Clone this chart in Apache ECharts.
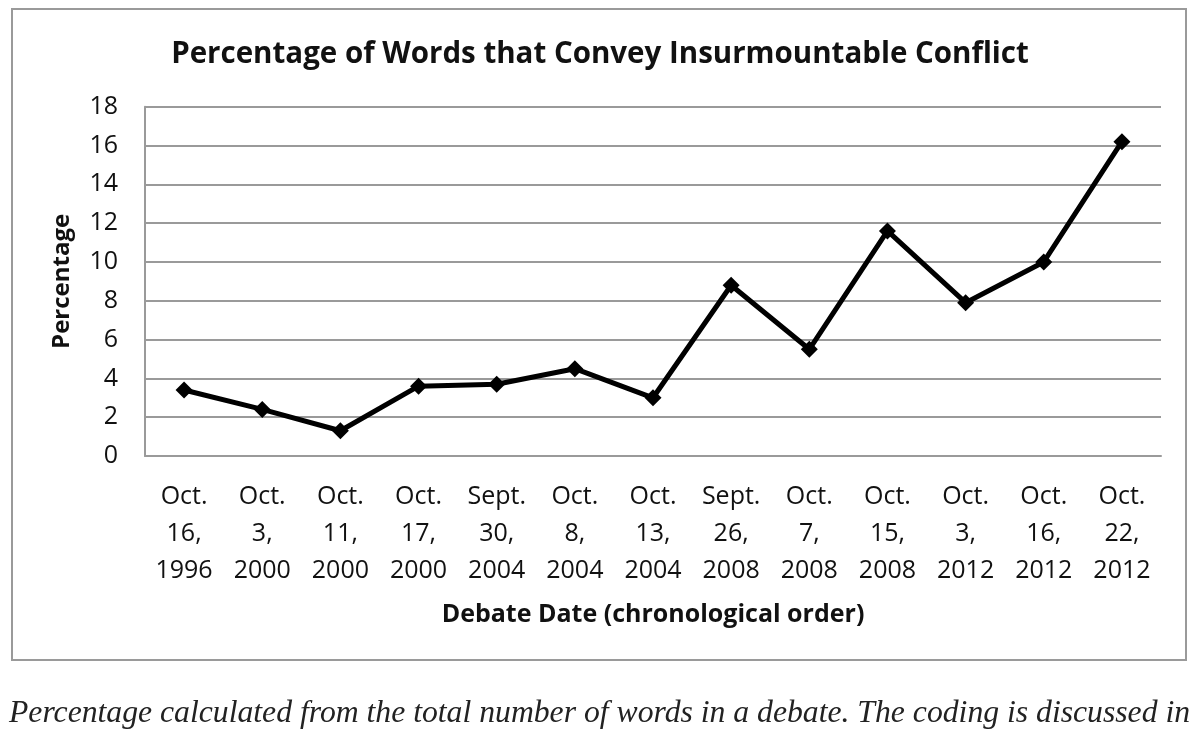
<!DOCTYPE html>
<html><head><meta charset="utf-8">
<script src="https://cdn.jsdelivr.net/npm/echarts@6/dist/echarts.min.js"></script>
<style>html,body{margin:0;padding:0;background:#fff}#c{width:1200px;height:731px}</style>
</head><body><div id="c"></div>
<script>
const categories = ['Oct.\n16,\n1996','Oct.\n3,\n2000','Oct.\n11,\n2000','Oct.\n17,\n2000','Sept.\n30,\n2004','Oct.\n8,\n2004','Oct.\n13,\n2004','Sept.\n26,\n2008','Oct.\n7,\n2008','Oct.\n15,\n2008','Oct.\n3,\n2012','Oct.\n16,\n2012','Oct.\n22,\n2012'];
const percentages = [3.4, 2.4, 1.3, 3.6, 3.7, 4.5, 3.0, 8.8, 5.5, 11.6, 7.9, 10.0, 16.2];
const titleText = 'Percentage of Words that Convey Insurmountable Conflict';
const xAxisTitle = 'Debate Date (chronological order)';
const yAxisTitle = 'Percentage';
const captionText = 'Percentage calculated from the total number of words in a debate. The coding is discussed in';

const chart = echarts.init(document.getElementById('c'));
const font = '"Open Sans", "Liberation Sans", sans-serif';
chart.setOption({
  backgroundColor: '#fff',
  animation: false,
  title: {text: titleText, left: 'center', top: 35, textStyle: {fontFamily: font, fontSize: 29.5, fontWeight: 'bold', color: '#111'}},
  graphic: [
    {type: 'rect', shape: {x: 12, y: 9, width: 1174, height: 651}, style: {fill: 'none', stroke: '#9a9a9a', lineWidth: 2}, z: -1},
    {type: 'text', left: 9, top: 698, style: {text: captionText, font: 'italic 31.7px "Liberation Serif", serif', fill: '#222'}}
  ],
  grid: {left: 145, right: 39, top: 106.7, bottom: 275, containLabel: false},
  xAxis: {
    type: 'category', data: categories, boundaryGap: true,
    name: xAxisTitle, nameLocation: 'middle', nameGap: 146,
    nameTextStyle: {fontFamily: font, fontSize: 25, fontWeight: 'bold', color: '#111'},
    axisLine: {lineStyle: {color: '#9a9a9a', width: 2}},
    axisTick: {show: false},
    axisLabel: {fontFamily: font, fontSize: 25, color: '#111', lineHeight: 37, margin: 22, interval: 0}
  },
  yAxis: {
    type: 'value', min: 0, max: 18, interval: 2,
    name: yAxisTitle, nameLocation: 'middle', nameGap: 71, nameRotate: 90,
    nameTextStyle: {fontFamily: font, fontSize: 24, fontWeight: 'bold', color: '#111'},
    axisLine: {show: true, lineStyle: {color: '#9a9a9a', width: 2}},
    axisTick: {show: false},
    axisLabel: {fontFamily: font, fontSize: 25, color: '#111', margin: 27},
    splitLine: {lineStyle: {color: '#9a9a9a', width: 2}}
  },
  series: [{
    type: 'line', data: percentages,
    symbol: 'diamond', symbolSize: 17, showAllSymbol: true,
    lineStyle: {color: '#000', width: 5}, itemStyle: {color: '#000'}
  }]
});
</script></body></html>
